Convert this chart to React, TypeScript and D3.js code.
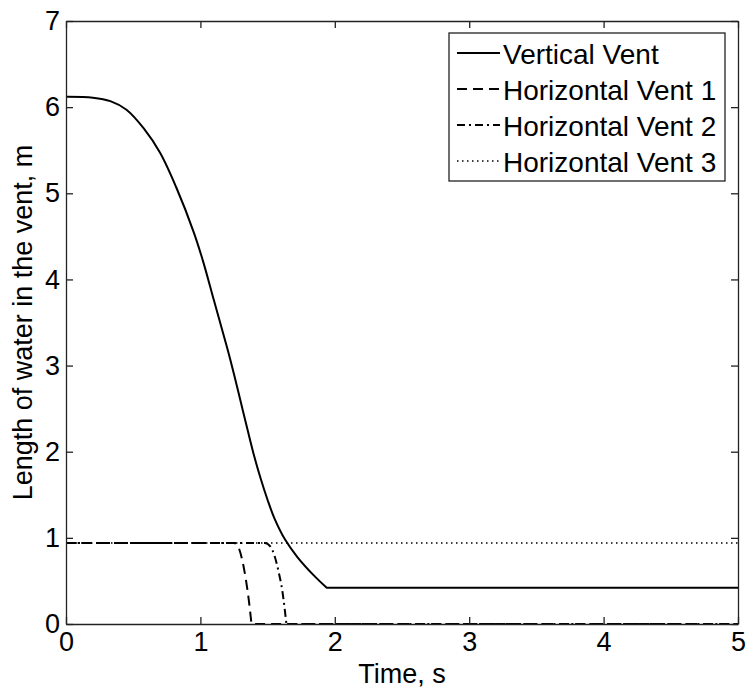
import React, { useEffect, useRef } from 'react'
import * as d3 from 'd3'

// Vertical vent (solid): falls from ~6.1 m and settles at ~0.42 m
const timeVertical = [0, 0.2, 0.33, 0.45, 0.58, 0.7, 0.82, 0.95, 1.02, 1.1, 1.2, 1.25, 1.3, 1.35, 1.4, 1.45, 1.5, 1.55, 1.63, 1.72, 1.84, 1.94, 5]
const lenVertical = [6.12, 6.11, 6.07, 5.97, 5.75, 5.47, 5.07, 4.55, 4.21, 3.76, 3.2, 2.9, 2.58, 2.26, 1.95, 1.68, 1.44, 1.23, 0.98, 0.78, 0.57, 0.42, 0.42]

// Horizontal vents
const timeH1 = [0, 1.25, 1.28, 1.31, 1.34, 1.36, 1.38, 5]
const lenH1 = [0.94, 0.94, 0.9, 0.75, 0.5, 0.28, 0, 0]
const timeH2 = [0, 1.48, 1.52, 1.55, 1.58, 1.61, 1.64, 5]
const lenH2 = [0.94, 0.94, 0.9, 0.8, 0.62, 0.38, 0, 0]
const timeH3 = [0, 5]
const lenH3 = [0.94, 0.94]

const seriesNames = ['Vertical Vent', 'Horizontal Vent 1', 'Horizontal Vent 2', 'Horizontal Vent 3']
const xTicks = [0, 1, 2, 3, 4, 5]
const yTicks = [0, 1, 2, 3, 4, 5, 6, 7]

const width = 748
const height = 692
const margin = { top: 21, right: 10, bottom: 68, left: 66 }
const font = '"Liberation Sans", Arial, sans-serif'

const dashes = [null, '10,6', '8,4,2,4', '1.5,3.5']
const widths = [2, 2, 2, 1.5]

const App: React.FC = () => {
  const svgRef = useRef<SVGSVGElement | null>(null)

  useEffect(() => {
    if (!svgRef.current) return
    const svg = d3.select(svgRef.current)
    svg.selectAll('*').remove()

    const x = d3.scaleLinear().domain([0, 5]).range([margin.left, width - margin.right])
    const y = d3.scaleLinear().domain([0, 7]).range([height - margin.bottom, margin.top])

    const data = [
      d3.zip(timeVertical, lenVertical),
      d3.zip(timeH1, lenH1),
      d3.zip(timeH2, lenH2),
      d3.zip(timeH3, lenH3),
    ]

    const makeLine = (curve: d3.CurveFactory) =>
      d3
        .line<number[]>()
        .x((d) => x(d[0]))
        .y((d) => y(d[1]))
        .curve(curve)
    const curves = [d3.curveCatmullRom.alpha(0.5), d3.curveMonotoneX, d3.curveMonotoneX, d3.curveLinear]

    // smooth part up to the last point, then a straight tail (keeps the corner sharp)
    const pathFor = (d: number[][], i: number) => {
      const last = d[d.length - 1]
      return makeLine(curves[i])(d.slice(0, -1))! + `L${x(last[0])},${y(last[1])}`
    }

    svg
      .append('g')
      .selectAll('path')
      .data(data)
      .join('path')
      .attr('d', (d, i) => pathFor(d, i))
      .attr('fill', 'none')
      .attr('stroke', 'black')
      .attr('stroke-width', (_, i) => widths[i])
      .attr('stroke-dasharray', (_, i) => dashes[i])

    // axes (MATLAB-style box with inward ticks)
    const styleAxis = (g: d3.Selection<SVGGElement, unknown, null, undefined>) => {
      g.select('.domain').attr('stroke', '#222').attr('stroke-width', 1.3)
      g.selectAll('.tick line').attr('stroke', '#222').attr('stroke-width', 1.3)
      g.selectAll('.tick text').attr('fill', 'black')
      g.attr('font-family', font).attr('font-size', 27)
    }
    const fmt = d3.format('d')

    svg
      .append('g')
      .attr('transform', `translate(0,${height - margin.bottom})`)
      .call(d3.axisBottom(x).tickValues(xTicks).tickFormat(fmt).tickSize(-7).tickSizeOuter(0).tickPadding(8))
      .call(styleAxis)
    svg
      .append('g')
      .attr('transform', `translate(0,${margin.top})`)
      .call(d3.axisTop(x).tickValues(xTicks).tickSize(-7).tickSizeOuter(0).tickFormat(() => ''))
      .call(styleAxis)
    svg
      .append('g')
      .attr('transform', `translate(${margin.left},0)`)
      .call(d3.axisLeft(y).tickValues(yTicks).tickFormat(fmt).tickSize(-7).tickSizeOuter(0).tickPadding(6))
      .call(styleAxis)
    svg
      .append('g')
      .attr('transform', `translate(${width - margin.right},0)`)
      .call(d3.axisRight(y).tickValues(yTicks).tickSize(-7).tickSizeOuter(0).tickFormat(() => ''))
      .call(styleAxis)

    // axis titles
    svg
      .append('text')
      .attr('x', (margin.left + width - margin.right) / 2)
      .attr('y', 683)
      .attr('text-anchor', 'middle')
      .attr('font-family', font)
      .attr('font-size', 27)
      .text('Time, s')
    svg
      .append('text')
      .attr('transform', `translate(32,${(margin.top + height - margin.bottom) / 2}) rotate(-90)`)
      .attr('text-anchor', 'middle')
      .attr('font-family', font)
      .attr('font-size', 27)
      .text('Length of water in the vent, m')

    // legend
    const legend = svg.append('g')
    legend
      .append('rect')
      .attr('x', 449)
      .attr('y', 33)
      .attr('width', 276)
      .attr('height', 148)
      .attr('fill', 'white')
      .attr('stroke', '#222')
      .attr('stroke-width', 1.3)

    const rows = legend
      .selectAll('g.row')
      .data(seriesNames)
      .join('g')
      .attr('class', 'row')
      .attr('transform', (_, i) => `translate(0,${64 + i * 36})`)
    rows
      .append('line')
      .attr('x1', 457)
      .attr('x2', 500)
      .attr('y1', -11)
      .attr('y2', -11)
      .attr('stroke', 'black')
      .attr('stroke-width', (_, i) => widths[i])
      .attr('stroke-dasharray', (_, i) => dashes[i])
    rows
      .append('text')
      .attr('x', 503)
      .attr('font-family', font)
      .attr('font-size', 28)
      .text((d) => d)
  }, [])

  return (
    <svg
      ref={svgRef}
      width={width}
      height={height}
      style={{ position: 'absolute', left: 0, top: 0, background: 'white' }}
    ></svg>
  )
}

export default App
